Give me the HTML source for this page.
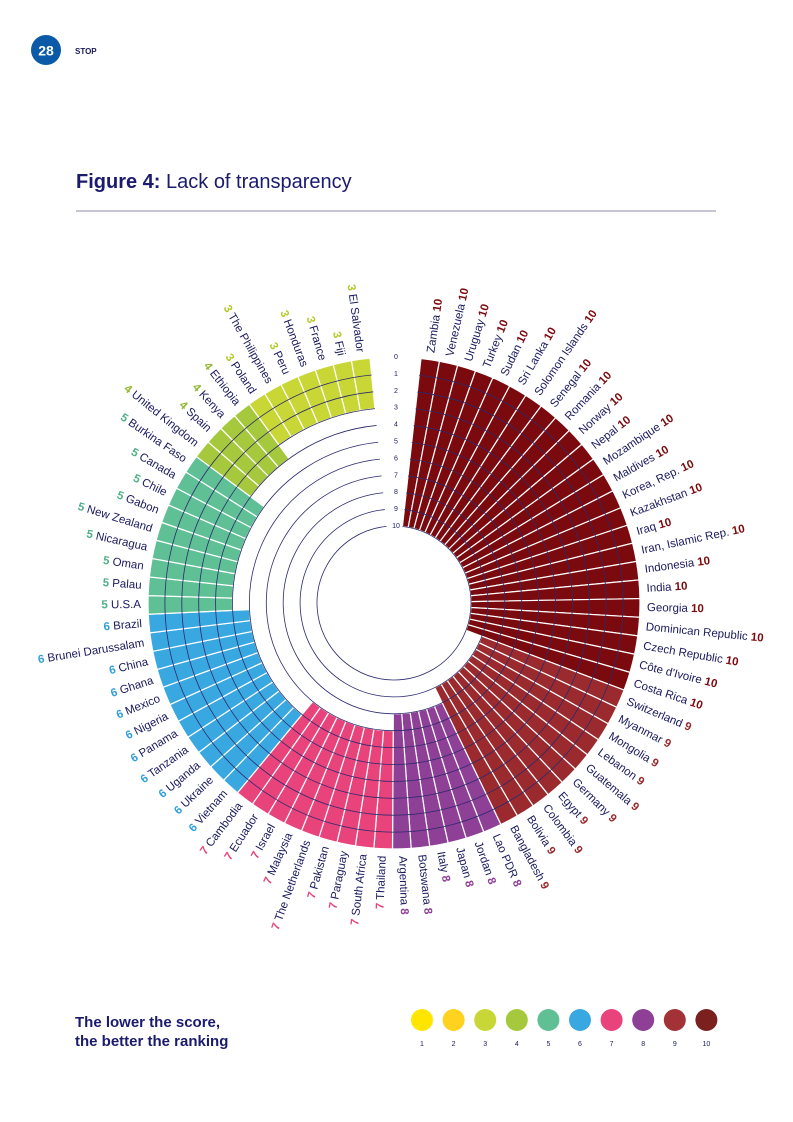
<!DOCTYPE html>
<html><head><meta charset="utf-8"><style>
body{margin:0;background:#fff;}
svg{display:block;font-family:"Liberation Sans",sans-serif;}
</style></head><body>
<svg id="chart" width="793" height="1122" viewBox="0 0 793 1122" xmlns="http://www.w3.org/2000/svg">
<circle cx="46" cy="50" r="15" fill="#0a5aa8"/>
<text x="46" y="55.5" text-anchor="middle" font-size="14" font-weight="bold" fill="#fff">28</text>
<text x="75" y="54" font-size="8" font-weight="bold" fill="#1a1a5e">STOP</text>
<text x="76" y="188" font-size="20" fill="#1a1a6e"><tspan font-weight="bold">Figure 4:</tspan> Lack of transparency</text>
<line x1="76" y1="211" x2="716" y2="211" stroke="#8a8aa6" stroke-width="1"/>
<g id="bars"></g><g id="rings"></g><g id="labels"></g><g id="ticks"></g>
<text x="75" y="1027" font-size="15" font-weight="bold" fill="#1a1a6e">The lower the score,</text>
<text x="75" y="1046" font-size="15" font-weight="bold" fill="#1a1a6e">the better the ranking</text>
<g id="legend"></g>
</svg>
<script>
const countries=["Zambia","Venezuela","Uruguay","Turkey","Sudan","Sri Lanka","Solomon Islands","Senegal","Romania","Norway","Nepal","Mozambique","Maldives","Korea, Rep.","Kazakhstan","Iraq","Iran, Islamic Rep.","Indonesia","India","Georgia","Dominican Republic","Czech Republic","Côte d'Ivoire","Costa Rica","Switzerland","Myanmar","Mongolia","Lebanon","Guatemala","Germany","Egypt","Colombia","Bolivia","Bangladesh","Lao PDR","Jordan","Japan","Italy","Botswana","Argentina","Thailand","South Africa","Paraguay","Pakistan","The Netherlands","Malaysia","Israel","Ecuador","Cambodia","Vietnam","Ukraine","Uganda","Tanzania","Panama","Nigeria","Mexico","Ghana","China","Brunei Darussalam","Brazil","U.S.A","Palau","Oman","Nicaragua","New Zealand","Gabon","Chile","Canada","Burkina Faso","United Kingdom","Spain","Kenya","Ethiopia","Poland","The Philippines","Peru","Honduras","France","Fiji","El Salvador"];
const scores=[10,10,10,10,10,10,10,10,10,10,10,10,10,10,10,10,10,10,10,10,10,10,10,10,9,9,9,9,9,9,9,9,9,9,8,8,8,8,8,8,7,7,7,7,7,7,7,7,7,6,6,6,6,6,6,6,6,6,6,6,5,5,5,5,5,5,5,5,5,4,4,4,4,3,3,3,3,3,3,3];
const levels=[0,1,2,3,4,5,6,7,8,9,10];
const legendScores=[1,2,3,4,5,6,7,8,9,10];
const colors={1:"#ffe600",2:"#ffd21f",3:"#c8d636",4:"#a6c83c",5:"#5fbf95",6:"#3aa8e0",7:"#e8437a",8:"#8e3f96",9:"#9b2a2e",10:"#7b0a0f"};
const legendColors={1:"#ffe600",2:"#ffd21f",3:"#c8d636",4:"#a6c83c",5:"#5fbf95",6:"#3aa8e0",7:"#e8437a",8:"#8e3f96",9:"#a33236",10:"#7b1f1f"};
const labelColors={3:"#b5c92a",4:"#93b832",5:"#4fb088",6:"#2f9fd8",7:"#e8437a",8:"#8e3f96",9:"#9b2a2e",10:"#7b0a0f"};
const NS="http://www.w3.org/2000/svg";
const cx=394,cy=603,R=246,R10=77,A0=6.3,A1=354.4;
const step=(A1-A0)/countries.length;
function rScale(v){return R-(R-R10)*v/10;}
function aScale(i){return A0+i*step;}
function pt(a,r){const t=a*Math.PI/180;return [cx+r*Math.sin(t),cy-r*Math.cos(t)];}
function mk(tag,attrs,parent){const e=document.createElementNS(NS,tag);for(const k in attrs)e.setAttribute(k,attrs[k]);parent.appendChild(e);return e;}
const gB=document.getElementById('bars'),gR=document.getElementById('rings'),gL=document.getElementById('labels'),gT=document.getElementById('ticks'),gG=document.getElementById('legend');
countries.forEach((c,i)=>{
  const a1=aScale(i),a2=aScale(i+1),ro=R,ri=rScale(scores[i]);
  const p1=pt(a1,ro),p2=pt(a2,ro),p3=pt(a2,ri),p4=pt(a1,ri);
  const d=`M${p1[0]},${p1[1]} A${ro},${ro} 0 0 1 ${p2[0]},${p2[1]} L${p3[0]},${p3[1]} A${ri},${ri} 0 0 0 ${p4[0]},${p4[1]} Z`;
  const p=mk('path',{d:d,fill:colors[scores[i]],stroke:'#fff','stroke-width':'1.2'},gB);
  
  
  const am=(a1+a2)/2;const lp=pt(am,253);
  const t=mk('text',{'font-size':'11.5',fill:'#1a1a5e','dominant-baseline':'central'},gL);
  
  
  t.setAttribute('x',lp[0]);t.setAttribute('y',lp[1]);
  const sc=`<tspan font-weight="bold" fill="${labelColors[scores[i]]}">${scores[i]}</tspan>`;
  if(am<180){t.setAttribute('transform',`rotate(${am-90} ${lp[0]} ${lp[1]})`);t.innerHTML=c+' '+sc;}
  else{t.setAttribute('transform',`rotate(${am+90} ${lp[0]} ${lp[1]})`);t.setAttribute('text-anchor','end');t.innerHTML=sc+' '+c;}
});
levels.forEach(v=>{
  const r=rScale(v);
  if(v>0){const p1=pt(A0,r),p2=pt(A1,r);
  const e=mk('path',{d:`M${p1[0]},${p1[1]} A${r},${r} 0 1 1 ${p2[0]},${p2[1]}`,fill:'none',stroke:'#2a2a6e','stroke-width':'0.8'},gR);
  
  }
  const t=mk('text',{x:cx+2,y:cy-r+2,'font-size':'7','text-anchor':'middle',fill:'#1a1a5e'},gT);
  
  
  t.textContent=v;
});
legendScores.forEach((s,i)=>{
  const x=422+i*31.6;
  const c=mk('circle',{cx:x,cy:1020,r:11,fill:legendColors[s]},gG);
  
  
  const t=mk('text',{x:x,y:1046,'font-size':'7','text-anchor':'middle',fill:'#1a1a5e'},gG);
  
  
  t.textContent=s;
});
</script>
</body></html>
